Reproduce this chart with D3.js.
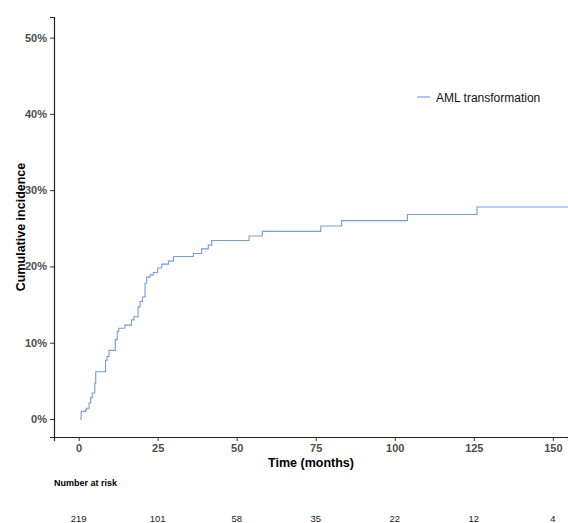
<!DOCTYPE html>
<html>
<head>
<meta charset="utf-8">
<script src="https://cdn.jsdelivr.net/npm/d3@7"></script>
<style>
  body { margin: 0; background: #fff; }
  svg { font-family: "Liberation Sans", Arial, sans-serif; }
</style>
</head>
<body>
<div id="chart"></div>
<script>
// step points: time (months) where the cumulative incidence jumps, and new value (%)
var stepTimes = [0.4, 0.8, 2.2, 2.5, 3.3, 3.8, 4.3, 5.1, 5.4, 8.5, 9.0, 9.6, 11.6, 12.2, 12.7,
                 14.6, 16.7, 17.5, 18.8, 19.4, 20.2, 21.0, 21.5, 22.6, 23.6, 25.0, 26.3, 28.4,
                 30.0, 36.3, 38.9, 41.0, 42.1, 53.9, 58.1, 76.6, 83.2, 104.0, 126.0];
var stepValues = [0.0, 1.0, 1.2, 1.4, 2.1, 2.8, 3.4, 4.7, 6.2, 7.7, 8.2, 9.0, 10.4, 11.5, 11.9,
                  12.3, 13.0, 13.4, 14.7, 15.4, 16.0, 17.8, 18.6, 18.9, 19.2, 19.8, 20.3, 20.7,
                  21.3, 21.7, 22.3, 22.8, 23.4, 24.0, 24.6, 25.3, 26.0, 26.8, 27.8];
var endTime = 155;

var xTicks = [0, 25, 50, 75, 100, 125, 150];
var yTicks = [0, 10, 20, 30, 40, 50];
var riskTimes = [0, 25, 50, 75, 100, 125, 150];
var riskCounts = [219, 101, 58, 35, 22, 12, 4];
var seriesName = "AML transformation";

var W = 568, H = 523;
var plot = {left: 54, right: 568, top: 17, bottom: 437};
var lineColor = "#6f9bf0";

var svg = d3.select("#chart").append("svg")
    .attr("width", W)
    .attr("height", H);

var x = d3.scaleLinear().domain([-7.8, 154.8]).range([plot.left, plot.right]);
var y = d3.scaleLinear().domain([-2.36, 52.7]).range([plot.bottom, plot.top]);

// curve
var pts = stepTimes.map(function(t, i) { return [t, stepValues[i]]; });
pts.push([endTime, stepValues[stepValues.length - 1]]);

var line = d3.line()
    .x(function(d) { return x(d[0]); })
    .y(function(d) { return y(d[1]); })
    .curve(d3.curveStepAfter);

svg.append("path")
    .datum(pts)
    .attr("fill", "none")
    .attr("stroke", lineColor)
    .attr("stroke-width", 1.1)
    .attr("d", line);

// axes
var xAxis = svg.append("g")
    .attr("transform", "translate(0," + plot.bottom + ")")
    .call(d3.axisBottom(x).tickValues(xTicks).tickSizeOuter(0).tickSize(4).tickPadding(3));

var yAxis = svg.append("g")
    .attr("transform", "translate(" + plot.left + ",0)")
    .call(d3.axisLeft(y).tickValues(yTicks).tickSizeOuter(0).tickSize(4).tickPadding(3)
        .tickFormat(function(d) { return d + "%"; }));

[xAxis, yAxis].forEach(function(a) {
    a.select(".domain").attr("stroke", "#222").attr("stroke-width", 1.2);
    a.selectAll(".tick line").attr("stroke", "#333");
    a.selectAll(".tick text")
        .attr("fill", "#4d4d4d")
        .style("font-size", "11px")
        .style("font-weight", "bold")
        .style("font-family", "Liberation Sans, Arial, sans-serif");
});

// axis titles
svg.append("text")
    .attr("x", (plot.left + plot.right) / 2)
    .attr("y", 467)
    .attr("text-anchor", "middle")
    .style("font-size", "12.5px")
    .style("font-weight", "bold")
    .text("Time (months)");

svg.append("text")
    .attr("transform", "translate(25," + ((plot.top + plot.bottom) / 2) + ") rotate(-90)")
    .attr("text-anchor", "middle")
    .style("font-size", "12.5px")
    .style("font-weight", "bold")
    .text("Cumulative incidence");

// legend
svg.append("line")
    .attr("x1", 417).attr("x2", 430)
    .attr("y1", 97).attr("y2", 97)
    .attr("stroke", lineColor)
    .attr("stroke-width", 1.1);

svg.append("text")
    .attr("x", 436)
    .attr("y", 101.5)
    .style("font-size", "12px")
    .attr("fill", "#111")
    .text(seriesName);

// risk table
svg.append("text")
    .attr("x", plot.left)
    .attr("y", 486)
    .style("font-size", "9px")
    .style("font-weight", "bold")
    .text("Number at risk");

svg.selectAll(".risk")
    .data(riskCounts)
    .enter().append("text")
    .attr("class", "risk")
    .attr("x", function(d, i) { return x(riskTimes[i]); })
    .attr("y", 522)
    .attr("text-anchor", "middle")
    .style("font-size", "9.5px")
    .attr("fill", "#222")
    .text(function(d) { return d; });
</script>
</body>
</html>
